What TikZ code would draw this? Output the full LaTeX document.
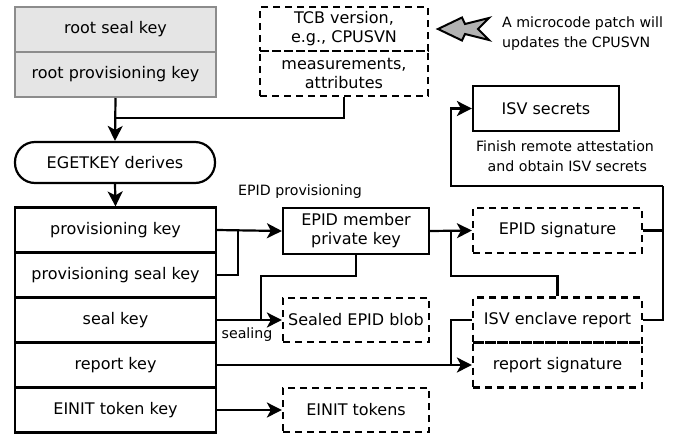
\documentclass[tikz,border=0pt]{standalone}
\usepackage{fontspec}
\setmainfont{DejaVu Sans}
\usetikzlibrary{arrows.meta}
\begin{document}
\begin{tikzpicture}[x=1pt,y=-1pt,
  every node/.style={inner sep=0pt,align=center},
  bigtext/.style={font=\fontsize{16}{19}\selectfont},
  smalltext/.style={font=\fontsize{14.2}{20}\selectfont},
  graybox/.style={bigtext,draw=black!45,fill=black!10,line width=2pt,minimum width=201pt,minimum height=45pt},
  keybox/.style={bigtext,draw=black,line width=2.2pt,minimum width=201pt,minimum height=45pt},
  solidbox/.style={bigtext,draw=black,line width=2.2pt},
  dashbox/.style={bigtext,draw=black,line width=2.2pt,dash pattern=on 7pt off 5pt},
  conn/.style={draw=black,line width=2.2pt},
  arr/.style={conn,-{Stealth[length=15pt,width=15pt,inset=4pt]}}
]
\useasboundingbox (0,0) rectangle (683,437);
\fill[white] (0,0) rectangle (683,437);

% top gray boxes
\node[graybox] (rootseal) at (115.5,29.5) {root seal key};
\node[graybox] (rootprov) at (115.5,74.5) {root provisioning key};

% TCB boxes
\node[dashbox,minimum width=168pt,minimum height=44pt] (tcb) at (344,29) {TCB version,\\e.g., CPUSVN};
\node[dashbox,minimum width=168pt,minimum height=45pt] (meas) at (344,73.5) {measurements,\\attributes};

% microcode arrow
\filldraw[fill=black!30,draw=black,line width=2pt,line join=miter]
  (438,29) -- (462,17.5) -- (465,24) -- (489,18) -- (478,29) -- (489,40) -- (465,34) -- (462,40.5) -- cycle;
\node[smalltext,align=left,anchor=west] (micro) at (502,33.5) {A microcode patch will\\updates the CPUSVN};

% EGETKEY
\node[solidbox,minimum width=200pt,minimum height=41pt,rounded corners=20pt] (eget) at (115,162.5) {EGETKEY derives};

% key stack
\node[keybox] (k1) at (115.5,230) {provisioning key};
\node[keybox] (k2) at (115.5,275) {provisioning seal key};
\node[keybox] (k3) at (115.5,320) {seal key};
\node[keybox] (k4) at (115.5,365) {report key};
\node[keybox] (k5) at (115.5,410) {EINIT token key};

% middle column
\node[solidbox,minimum width=146pt,minimum height=46pt] (epidkey) at (356,231) {EPID member\\private key};
\node[dashbox,minimum width=146pt,minimum height=44pt] (sealed) at (356,320) {Sealed EPID blob};
\node[dashbox,minimum width=146pt,minimum height=44pt] (einit) at (356,410) {EINIT tokens};

% right column
\node[solidbox,minimum width=146pt,minimum height=45pt] (isvsec) at (546,108.5) {ISV secrets};
\node[dashbox,minimum width=169pt,minimum height=45pt] (epidsig) at (557.5,230.5) {EPID signature};
\node[dashbox,minimum width=169pt,minimum height=45pt] (isvrep) at (557.5,320) {ISV enclave report};
\node[dashbox,minimum width=169pt,minimum height=45pt] (repsig) at (557.5,365) {report signature};

% labels
\node[smalltext] (lprov) at (300,192) {EPID provisioning};
\node[smalltext] (lseal) at (247,335) {sealing};
\node[smalltext] (lfinish) at (565,156) {Finish remote attestation\\\ and obtain ISV secrets};

% coordinates
\coordinate (j1) at (115.5,118);
\coordinate (j2) at (238,230);
\coordinate (j3a) at (261,276);
\coordinate (j3b) at (261,320);
\coordinate (j4a) at (451,276);
\coordinate (j4b) at (451,231);
\coordinate (j5) at (451,365);
\coordinate (j6) at (663,186);
\coordinate (j7) at (451,186);

% connectors
\draw[arr] (rootprov.south) -- (eget.north);
\draw[conn] (meas.south) |- (j1);
\draw[arr] (eget.south) -- (k1.north);
\draw[arr] (k1.east) -- (epidkey.west);
\draw[conn] (k2.east) -| (j2);
\draw[arr] (k3.east) -- (sealed.west);
\draw[conn] (epidkey.south) |- (j3a) -- (j3b);
\draw[arr] (k4.east) -- (repsig.west);
\draw[conn] (isvrep.west) -| (j5);
\draw[arr] (k5.east) -- (einit.west);
\draw[arr] (epidkey.east) -- (epidsig.west);
\draw[conn] (isvrep.north) |- (j4a) -- (j4b);
\draw[conn] (epidsig.east) -| (j6);
\draw[conn] (isvrep.east) -| (j6);
\draw[arr] (j6) -- (j7) |- (isvsec.west);
\end{tikzpicture}
\end{document}
